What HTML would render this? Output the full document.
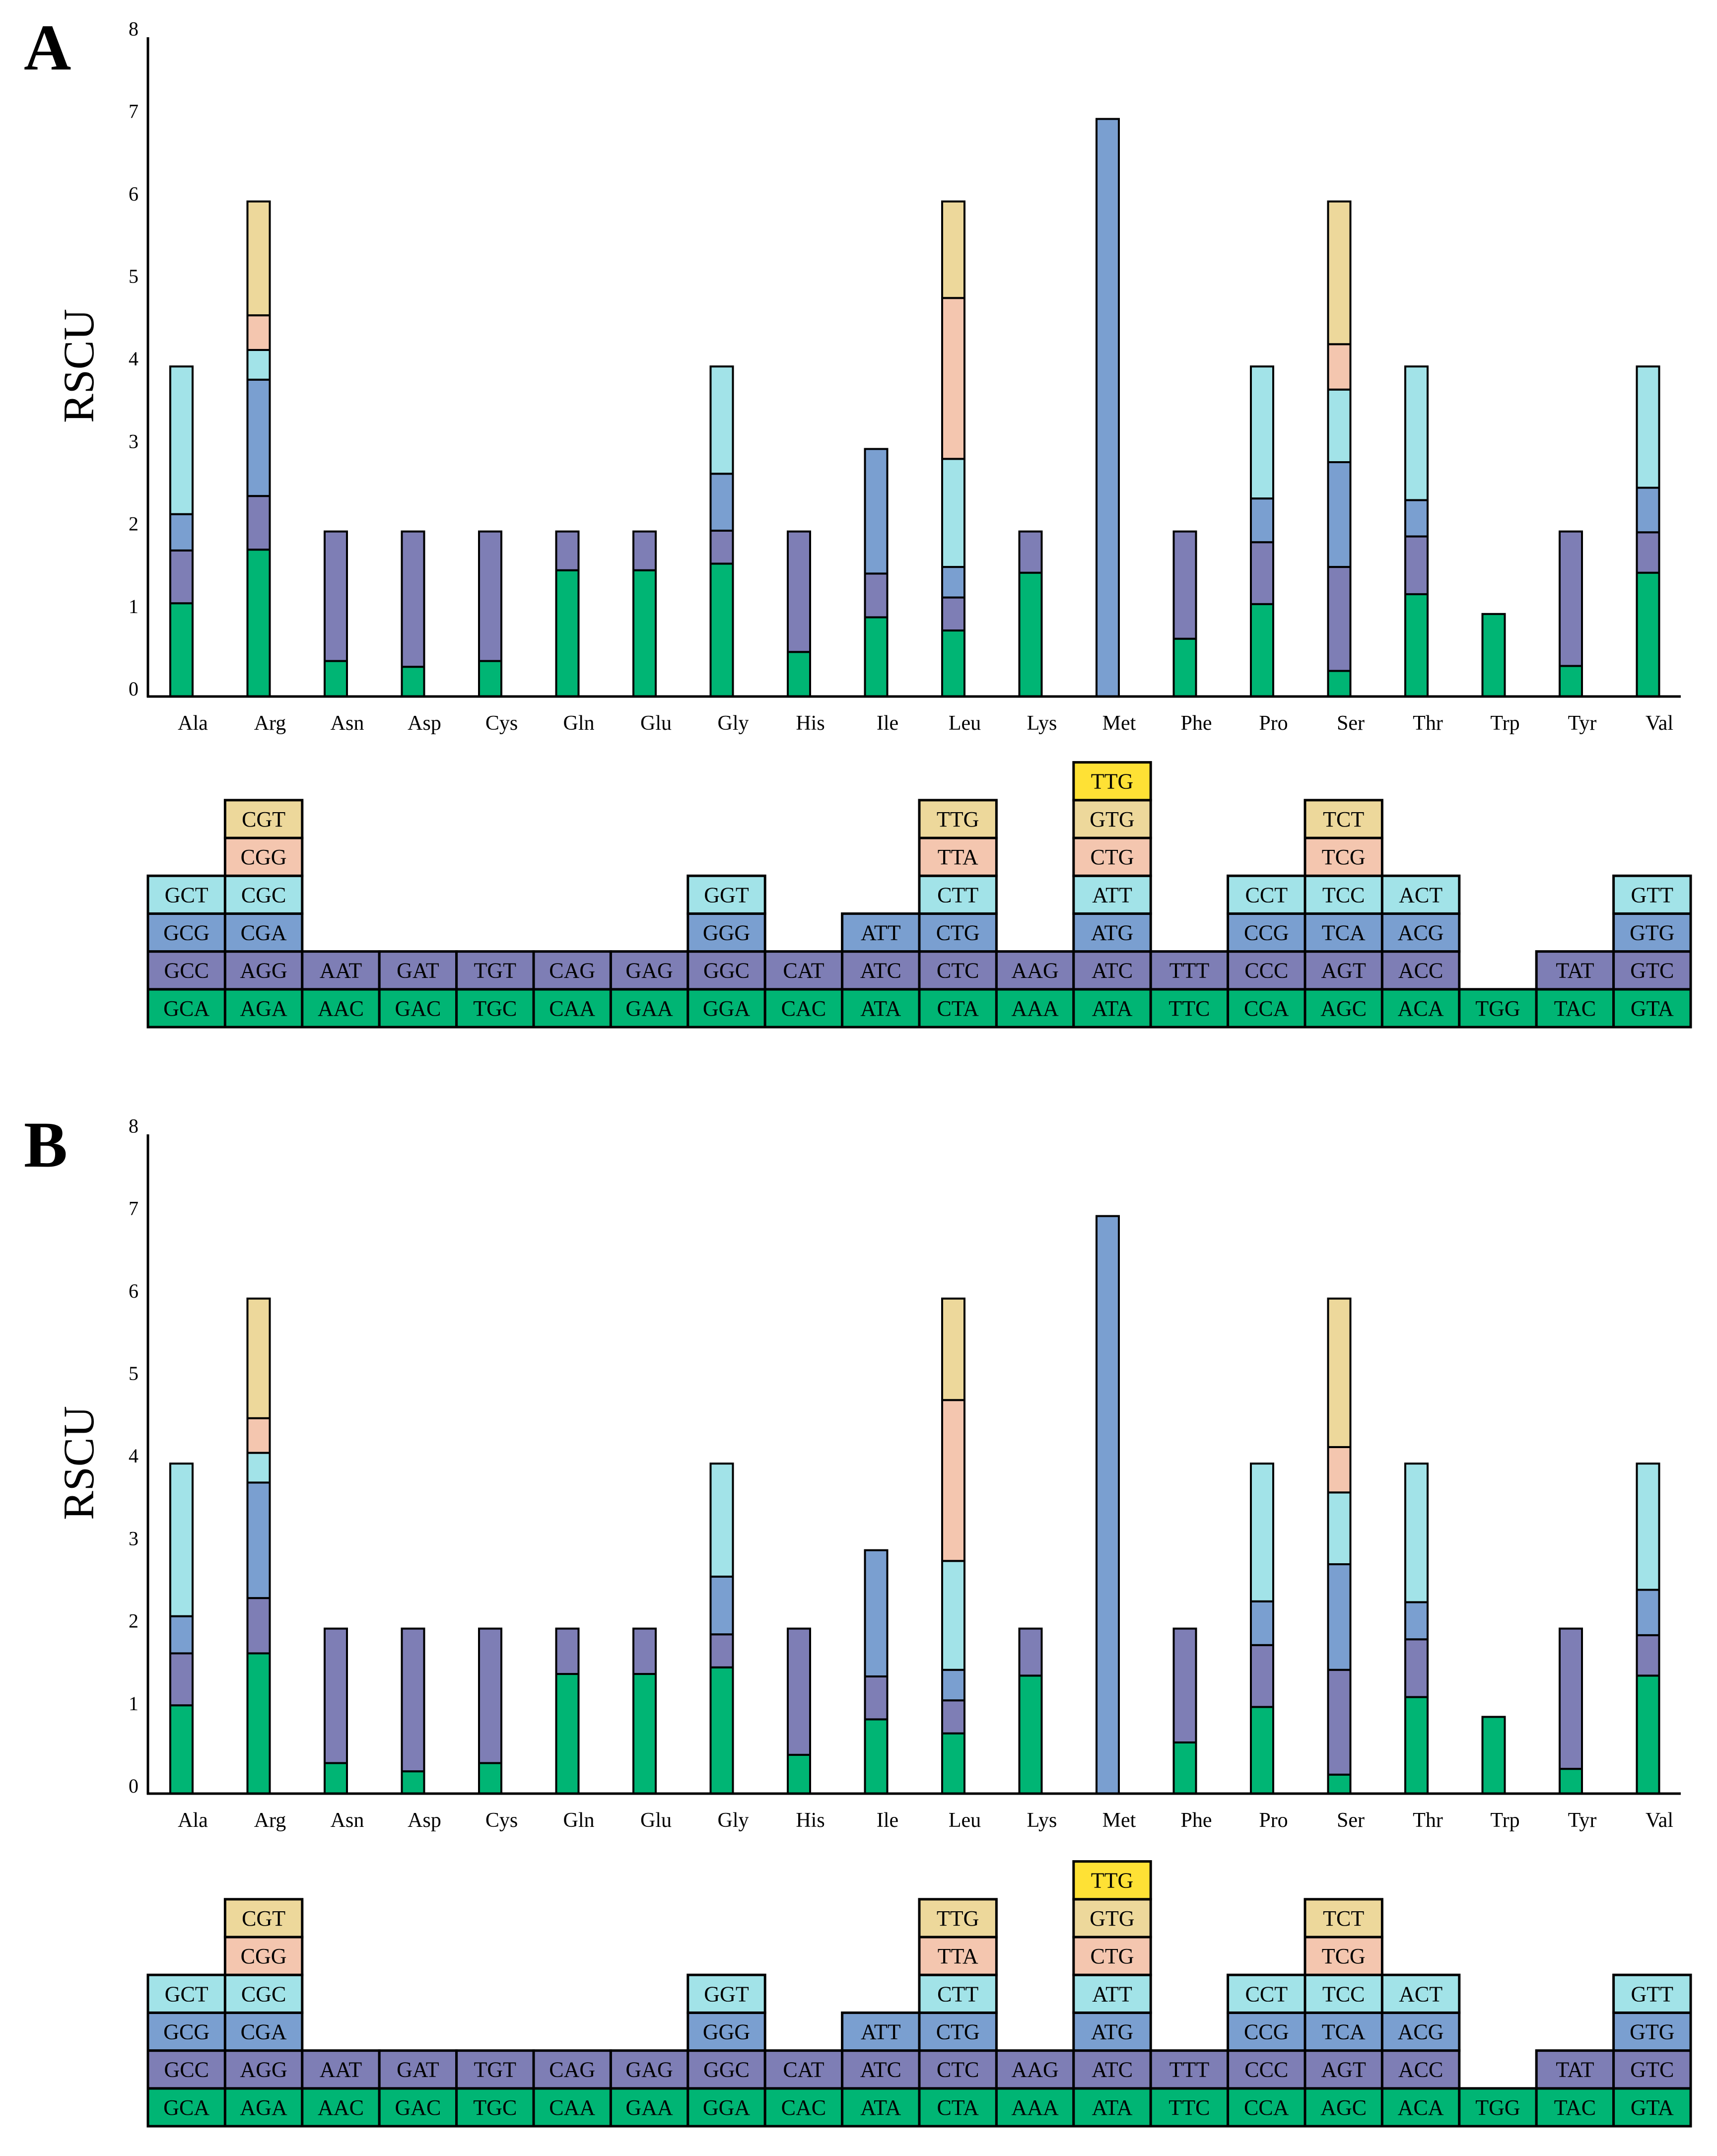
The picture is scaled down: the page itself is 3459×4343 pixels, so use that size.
<!DOCTYPE html>
<html><head><meta charset="utf-8"><style>
body{margin:0;background:#fff}
svg{display:block}
text{font-family:"Liberation Serif",serif;fill:#000}
</style></head><body>
<svg id="fig" xmlns="http://www.w3.org/2000/svg" width="3459" height="4343" viewBox="0 0 3459 4343"></svg>
<script>
const aminoAcids = ["Ala","Arg","Asn","Asp","Cys","Gln","Glu","Gly","His","Ile","Leu","Lys","Met","Phe","Pro","Ser","Thr","Trp","Tyr","Val"];
const codons = [
 ["GCA","GCC","GCG","GCT"],["AGA","AGG","CGA","CGC","CGG","CGT"],["AAC","AAT"],["GAC","GAT"],["TGC","TGT"],
 ["CAA","CAG"],["GAA","GAG"],["GGA","GGC","GGG","GGT"],["CAC","CAT"],["ATA","ATC","ATT"],
 ["CTA","CTC","CTG","CTT","TTA","TTG"],["AAA","AAG"],["ATA","ATC","ATG","ATT","CTG","GTG","TTG"],["TTC","TTT"],
 ["CCA","CCC","CCG","CCT"],["AGC","AGT","TCA","TCC","TCG","TCT"],["ACA","ACC","ACG","ACT"],["TGG"],["TAC","TAT"],["GTA","GTC","GTG","GTT"]
];
const rscuA = [
 [1.13,0.64,0.44,1.79],[1.78,0.65,1.41,0.36,0.42,1.38],[0.43,1.57],[0.36,1.64],[0.43,1.57],
 [1.53,0.47],[1.53,0.47],[1.61,0.40,0.69,1.30],[0.54,1.46],[0.96,0.53,1.51],
 [0.80,0.40,0.37,1.31,1.95,1.17],[1.50,0.50],[0,0,7,0,0,0,0],[0.70,1.30],
 [1.12,0.75,0.53,1.60],[0.31,1.26,1.27,0.88,0.55,1.73],[1.24,0.70,0.44,1.62],[1.0],[0.37,1.63],[1.50,0.49,0.54,1.47]
];
const rscuB = [
 [1.07,0.63,0.45,1.85],[1.70,0.67,1.40,0.36,0.42,1.45],[0.37,1.63],[0.27,1.73],[0.37,1.63],
 [1.45,0.55],[1.45,0.55],[1.53,0.40,0.70,1.37],[0.47,1.53],[0.90,0.52,1.53],
 [0.73,0.40,0.37,1.32,1.95,1.23],[1.43,0.57],[0,0,7,0,0,0,0],[0.62,1.38],
 [1.05,0.75,0.53,1.67],[0.23,1.27,1.28,0.87,0.55,1.80],[1.17,0.70,0.45,1.68],[0.93],[0.30,1.70],[1.43,0.49,0.55,1.53]
];
const yTicks = [0,1,2,3,4,5,6,7,8];
const levelColors = ["#00B574","#7E7EB5","#7A9FD0","#A2E3E8","#F4C6AF","#EDD89B","#FEE135"];

const NS="http://www.w3.org/2000/svg";
const svg=document.getElementById('fig');
function mk(tag,attrs,parent){const e=document.createElementNS(NS,tag);for(const k in attrs)e.setAttribute(k,attrs[k]);(parent||svg).appendChild(e);return e;}

function panel(letter, data, off, toff){
  const g=mk('g',{});
  
  
  const base=1403+off, unit=166.2, axX=298;
  const y=v=>base-v*unit;
  const xc=i=>365.5+i*155.5;
  const lab=mk('text',{x:48,y:140+off,'font-size':132,'font-weight':'bold'},g);
  lab.textContent=letter;
  
  
  const yt=mk('text',{x:0,y:0,'font-size':88,'text-anchor':'middle',transform:`translate(188,${737+off}) rotate(-90)`},g);
  yt.textContent='RSCU';
  
  
  yTicks.forEach(t=>{
    const tx=mk('text',{x:279,y:y(t)-2,'font-size':40,'text-anchor':'end'},g);
    tx.textContent=t;
    
    
  });
  aminoAcids.forEach((aa,i)=>{
    let cum=0;
    data[i].forEach((v,k)=>{
      if(v<=0)return;
      const r=mk('rect',{x:xc(i)-22.5,y:y(cum+v),width:45,height:v*unit,fill:levelColors[k],stroke:'#000','stroke-width':4},g);
      
      
      cum+=v;
    });
    const t=mk('text',{x:xc(i)+23,y:base+67,'font-size':42,'text-anchor':'middle'},g);
    t.textContent=aa;
    
    
  });
  const ya=mk('line',{x1:axX,y1:75+off,x2:axX,y2:base+2,stroke:'#000','stroke-width':5},g);
  
  
  const xa=mk('line',{x1:axX-2,y1:base,x2:3386,y2:base,stroke:'#000','stroke-width':5},g);
  
  
  const tb=2069+toff, rh=76.2, cw=155.4;
  aminoAcids.forEach((aa,i)=>{
    codons[i].forEach((c,k)=>{
      const x0=298+i*cw, y0=tb-(k+1)*rh;
      const r=mk('rect',{x:x0,y:y0,width:cw,height:rh,fill:levelColors[k],stroke:'#000','stroke-width':5},g);
      
      
      const t=mk('text',{x:x0+cw/2,y:y0+rh/2+15,'font-size':44,'text-anchor':'middle'},g);
      t.textContent=c;
      
      
    });
  });
}
panel('A',rscuA,0,0);
panel('B',rscuB,2210,2214);
</script>
</body></html>
